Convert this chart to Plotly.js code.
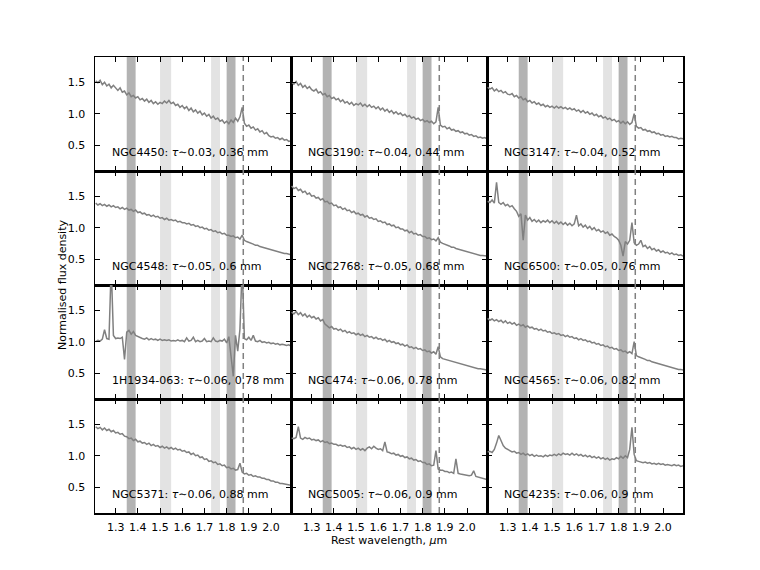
<!DOCTYPE html>
<html>
<head>
<meta charset="utf-8">
<script src="https://cdn.plot.ly/plotly-3.0.1.min.js"></script>
<style>html,body{margin:0;padding:0;background:#fff;}#chart{width:760px;height:570px;}</style>
</head>
<body>
<div id="chart"></div>
<script>
// ---- data ----
const wavelength = [
1.21,1.22,1.23,1.24,1.25,1.26,1.27,1.28,1.29,1.30,
1.31,1.32,1.33,1.34,1.35,1.36,1.37,1.38,1.39,1.40,
1.41,1.42,1.43,1.44,1.45,1.46,1.47,1.48,1.49,1.50,
1.51,1.52,1.53,1.54,1.55,1.56,1.57,1.58,1.59,1.60,
1.61,1.62,1.63,1.64,1.65,1.66,1.67,1.68,1.69,1.70,
1.71,1.72,1.73,1.74,1.75,1.76,1.77,1.78,1.79,1.80,
1.81,1.82,1.83,1.84,1.85,1.86,1.87,1.88,1.89,1.90,
1.91,1.92,1.93,1.94,1.95,1.96,1.97,1.98,1.99,2.00,
2.01,2.02,2.03,2.04,2.05,2.06,2.07,2.08,2.09];

const fluxNGC4450 = [
1.52,1.49,1.53,1.46,1.50,1.44,1.47,1.41,1.45,1.40,
1.37,1.41,1.34,1.36,1.30,1.33,1.27,1.29,1.25,1.27,
1.22,1.24,1.20,1.23,1.18,1.21,1.16,1.19,1.15,1.18,
1.16,1.20,1.17,1.21,1.16,1.18,1.13,1.15,1.10,1.13,
1.08,1.11,1.05,1.09,1.03,1.06,1.01,1.04,0.98,1.01,
0.96,0.99,0.93,0.96,0.91,0.93,0.88,0.90,0.85,0.88,
0.84,0.90,0.86,0.93,0.88,0.95,1.10,0.85,0.80,0.82,
0.77,0.79,0.74,0.76,0.71,0.73,0.68,0.70,0.65,0.63,
0.64,0.61,0.62,0.59,0.61,0.58,0.59,0.56,0.57];

const fluxNGC3190 = [
1.50,1.47,1.51,1.45,1.48,1.42,1.45,1.40,1.43,1.38,
1.36,1.39,1.33,1.35,1.30,1.32,1.27,1.29,1.24,1.26,
1.22,1.24,1.19,1.22,1.17,1.19,1.15,1.18,1.13,1.16,
1.14,1.17,1.12,1.15,1.11,1.14,1.10,1.12,1.08,1.11,
1.06,1.09,1.04,1.07,1.02,1.05,1.00,1.03,0.99,1.01,
0.97,0.99,0.95,0.97,0.93,0.95,0.91,0.93,0.89,0.91,
0.87,0.89,0.86,0.88,0.84,0.87,1.10,0.82,0.79,0.80,
0.76,0.78,0.74,0.75,0.72,0.73,0.70,0.71,0.68,0.69,
0.66,0.67,0.64,0.65,0.62,0.63,0.61,0.62,0.60];

const fluxNGC3147 = [
1.42,1.39,1.41,1.36,1.39,1.35,1.37,1.33,1.35,1.31,
1.30,1.32,1.27,1.29,1.25,1.27,1.22,1.24,1.19,1.21,
1.17,1.19,1.15,1.17,1.13,1.15,1.11,1.13,1.10,1.12,
1.09,1.12,1.09,1.11,1.08,1.10,1.07,1.09,1.06,1.08,
1.04,1.06,1.02,1.05,1.01,1.03,0.99,1.01,0.97,0.99,
0.95,0.97,0.93,0.95,0.91,0.93,0.89,0.91,0.87,0.89,
0.85,0.88,0.84,0.87,0.83,0.86,1.00,0.80,0.77,0.78,
0.74,0.75,0.72,0.73,0.70,0.71,0.68,0.69,0.66,0.67,
0.64,0.65,0.63,0.64,0.62,0.62,0.60,0.61,0.60];

const fluxNGC4548 = [
1.39,1.36,1.38,1.35,1.37,1.34,1.36,1.33,1.35,1.32,
1.33,1.30,1.32,1.29,1.31,1.28,1.29,1.26,1.28,1.24,
1.25,1.22,1.23,1.20,1.21,1.18,1.20,1.17,1.18,1.15,
1.16,1.13,1.15,1.12,1.13,1.11,1.12,1.09,1.10,1.08,
1.08,1.06,1.07,1.04,1.05,1.02,1.03,1.00,1.01,0.98,
0.99,0.96,0.97,0.94,0.95,0.92,0.93,0.90,0.91,0.88,
0.88,0.86,0.87,0.84,0.85,0.82,0.88,0.80,0.78,0.77,
0.75,0.74,0.72,0.72,0.70,0.69,0.67,0.67,0.65,0.64,
0.63,0.62,0.61,0.61,0.60,0.59,0.59,0.58,0.57];

const fluxNGC2768 = [
1.66,1.62,1.64,1.59,1.61,1.56,1.58,1.53,1.55,1.50,
1.51,1.47,1.48,1.44,1.46,1.41,1.42,1.38,1.39,1.35,
1.36,1.32,1.33,1.29,1.31,1.27,1.28,1.24,1.26,1.22,
1.23,1.20,1.21,1.17,1.19,1.15,1.16,1.13,1.14,1.10,
1.11,1.08,1.09,1.05,1.06,1.03,1.04,1.00,1.01,0.98,
0.98,0.95,0.96,0.92,0.94,0.90,0.91,0.88,0.89,0.86,
0.86,0.83,0.84,0.81,0.82,0.79,0.84,0.77,0.75,0.74,
0.72,0.71,0.69,0.69,0.67,0.66,0.65,0.64,0.62,0.62,
0.60,0.60,0.58,0.58,0.57,0.56,0.56,0.55,0.55];

const fluxNGC6500 = [
1.42,1.40,1.44,1.39,1.72,1.40,1.37,1.40,1.35,1.37,
1.33,1.35,1.30,1.26,1.18,1.22,0.80,1.20,1.12,1.16,
1.10,1.13,1.09,1.12,1.08,1.11,1.09,1.12,1.08,1.11,
1.07,1.10,1.06,1.09,1.05,1.08,1.04,1.07,1.03,1.06,
1.20,1.03,1.06,1.01,1.04,0.99,1.02,0.97,1.00,0.95,
0.97,0.93,0.95,0.91,0.93,0.88,0.90,0.86,0.84,0.80,
0.72,0.55,0.78,0.74,0.80,1.08,0.76,0.72,0.74,0.80,
0.70,0.72,0.67,0.70,0.65,0.67,0.63,0.65,0.61,0.63,
0.60,0.61,0.58,0.60,0.57,0.58,0.56,0.57,0.55];

const flux1H1934 = [
1.00,1.02,1.01,1.04,1.19,1.05,1.04,2.20,1.10,1.05,
1.06,1.05,1.07,0.72,1.15,1.18,1.12,1.16,1.10,1.08,
1.06,1.05,1.04,1.06,1.03,1.05,1.03,1.04,1.02,1.04,
1.02,1.03,1.02,1.03,1.01,1.02,1.01,1.03,1.01,1.02,
1.00,1.06,1.01,1.02,1.07,1.00,1.02,1.00,1.01,1.05,
1.00,1.01,1.00,1.06,1.01,1.00,1.02,1.01,1.04,0.98,
1.08,0.72,0.45,1.10,0.85,1.20,2.20,1.05,1.03,1.07,
1.02,1.10,1.01,1.00,1.02,0.99,1.00,0.98,0.99,0.97,
0.98,0.96,0.97,0.95,0.96,0.95,0.94,0.95,0.93];

const fluxNGC474 = [
1.47,1.44,1.48,1.43,1.46,1.41,1.44,1.39,1.42,1.38,
1.40,1.36,1.38,1.33,1.35,1.28,1.25,1.22,1.24,1.20,
1.21,1.18,1.20,1.16,1.18,1.14,1.16,1.13,1.14,1.11,
1.13,1.10,1.12,1.08,1.10,1.07,1.08,1.05,1.07,1.04,
1.05,1.02,1.04,1.00,1.02,0.99,1.00,0.97,0.98,0.95,
0.96,0.93,0.95,0.91,0.92,0.89,0.91,0.88,0.89,0.86,
0.87,0.84,0.85,0.82,0.84,0.80,0.92,0.76,0.73,0.72,
0.70,0.69,0.68,0.67,0.66,0.65,0.64,0.63,0.62,0.61,
0.60,0.59,0.59,0.58,0.57,0.57,0.56,0.55,0.55];

const fluxNGC4565 = [
1.37,1.34,1.36,1.33,1.35,1.32,1.34,1.30,1.33,1.29,
1.31,1.28,1.30,1.26,1.28,1.25,1.27,1.23,1.25,1.22,
1.23,1.20,1.21,1.18,1.20,1.17,1.18,1.15,1.16,1.13,
1.14,1.12,1.13,1.10,1.11,1.08,1.10,1.07,1.08,1.05,
1.06,1.03,1.05,1.02,1.03,1.00,1.01,0.98,0.99,0.96,
0.97,0.94,0.95,0.92,0.93,0.90,0.91,0.88,0.89,0.86,
0.87,0.84,0.85,0.82,0.84,0.81,1.00,0.78,0.76,0.75,
0.73,0.72,0.70,0.70,0.68,0.67,0.66,0.65,0.63,0.63,
0.61,0.61,0.59,0.59,0.58,0.57,0.56,0.56,0.55];

const fluxNGC5371 = [
1.46,1.43,1.45,1.41,1.44,1.40,1.42,1.38,1.40,1.36,
1.37,1.34,1.35,1.31,1.30,1.27,1.28,1.24,1.26,1.22,
1.23,1.20,1.21,1.18,1.20,1.16,1.18,1.15,1.16,1.13,
1.15,1.12,1.14,1.11,1.13,1.10,1.12,1.09,1.10,1.07,
1.08,1.05,1.06,1.02,1.04,1.00,1.01,0.97,0.98,0.94,
0.95,0.91,0.92,0.89,0.90,0.86,0.87,0.84,0.85,0.81,
0.82,0.79,0.80,0.77,0.78,0.88,0.74,0.71,0.72,0.69,
0.70,0.67,0.68,0.66,0.66,0.64,0.64,0.62,0.62,0.60,
0.60,0.58,0.58,0.56,0.56,0.55,0.54,0.54,0.53];

const fluxNGC5005 = [
1.28,1.27,1.29,1.46,1.28,1.26,1.29,1.27,1.28,1.25,
1.26,1.24,1.25,1.22,1.24,1.21,1.22,1.19,1.20,1.18,
1.18,1.16,1.17,1.15,1.16,1.13,1.14,1.11,1.13,1.10,
1.12,1.09,1.11,1.08,1.12,1.14,1.11,1.15,1.12,1.10,
1.11,1.08,1.22,1.06,1.05,1.03,1.04,1.01,1.02,0.99,
1.00,0.97,0.98,0.95,0.96,0.93,0.94,0.91,0.92,0.89,
0.89,0.86,0.87,0.84,0.85,1.08,0.79,0.77,0.77,0.75,
0.75,0.73,0.74,0.72,0.95,0.72,0.71,0.70,0.70,0.69,
0.68,0.69,0.76,0.67,0.66,0.65,0.64,0.63,0.62];

const fluxNGC4235 = [
1.06,1.07,1.05,1.10,1.20,1.32,1.24,1.16,1.12,1.10,
1.08,1.06,1.07,1.04,1.05,1.02,1.04,1.01,1.03,1.00,
1.02,0.99,1.01,0.99,1.00,0.98,1.01,0.99,1.01,1.00,
1.02,1.00,1.03,1.01,1.04,1.02,1.03,1.01,1.04,1.01,
1.03,1.00,1.02,0.99,1.01,0.98,1.00,0.97,0.99,0.96,
0.98,0.95,0.97,0.94,0.96,0.93,0.95,0.94,0.97,0.95,
0.99,0.96,1.00,0.97,1.10,1.45,1.02,0.92,0.91,0.90,
0.89,0.90,0.88,0.89,0.87,0.88,0.86,0.88,0.86,0.87,
0.85,0.86,0.85,0.84,0.86,0.84,0.85,0.83,0.84];

const panelNames = ['NGC4450','NGC3190','NGC3147','NGC4548','NGC2768','NGC6500',
                    '1H1934-063','NGC474','NGC4565','NGC5371','NGC5005','NGC4235'];
const panelTau   = ['0.03','0.04','0.04','0.05','0.05','0.05','0.06','0.06','0.06','0.06','0.06','0.06'];
const panelScale = ['0.36','0.44','0.52','0.6','0.68','0.76','0.78','0.78','0.82','0.88','0.9','0.9'];
const panelFlux  = [fluxNGC4450, fluxNGC3190, fluxNGC3147, fluxNGC4548, fluxNGC2768, fluxNGC6500,
                    flux1H1934, fluxNGC474, fluxNGC4565, fluxNGC5371, fluxNGC5005, fluxNGC4235];

const xTickVals = [1.3,1.4,1.5,1.6,1.7,1.8,1.9,2.0];
const xTickText = ['1.3','1.4','1.5','1.6','1.7','1.8','1.9','2.0'];
const yTickVals = [0.5,1.0,1.5];
const yTickText = ['0.5','1.0','1.5'];

const darkBands  = [[1.35,1.39],[1.80,1.84]];
const lightBands = [[1.50,1.55],[1.73,1.77]];
const paAlpha = 1.875;

// ---- build ----
const FONT = 'DejaVu Sans, Liberation Sans, sans-serif';
const traces = [], shapes = [], annotations = [];
const layout = {
  width: 760, height: 570,
  margin: {l: 95, r: 77, t: 57, b: 57, pad: 0},
  paper_bgcolor: '#ffffff', plot_bgcolor: '#ffffff',
  font: {family: FONT, size: 11, color: '#000'},
  showlegend: false
};

for (let k = 0; k < 12; k++) {
  const r = Math.floor(k / 3), c = k % 3;
  const sfx = k === 0 ? '' : String(k + 1);
  const xa = 'x' + sfx, ya = 'y' + sfx;
  traces.push({
    x: wavelength, y: panelFlux[k], xaxis: xa, yaxis: ya,
    type: 'scatter', mode: 'lines', hoverinfo: 'skip',
    line: {color: '#808080', width: 1.5}
  });
  layout['xaxis' + sfx] = {
    domain: [c / 3, (c + 1) / 3], anchor: ya,
    range: [1.207, 2.09],
    tickmode: 'array', tickvals: xTickVals, ticktext: xTickText,
    ticks: 'inside', ticklen: 5, tickwidth: 1, tickcolor: '#000',
    showline: true, linecolor: '#000', linewidth: 1.5, mirror: 'allticks',
    showgrid: false, zeroline: false,
    showticklabels: r === 3, ticklabelstandoff: 3,
    tickfont: {family: FONT, size: 11, color: '#000'}
  };
  layout['yaxis' + sfx] = {
    domain: [1 - (r + 1) / 4, 1 - r / 4], anchor: xa,
    range: [0.09, 1.9],
    tickmode: 'array', tickvals: yTickVals, ticktext: yTickText,
    ticks: 'inside', ticklen: 5, tickwidth: 1, tickcolor: '#000',
    showline: true, linecolor: '#000', linewidth: 1.5, mirror: 'allticks',
    showgrid: false, zeroline: false,
    showticklabels: c === 0, ticklabelstandoff: 6,
    tickfont: {family: FONT, size: 11, color: '#000'}
  };
  darkBands.forEach(b => shapes.push({type: 'rect', xref: xa, yref: ya + ' domain',
    x0: b[0], x1: b[1], y0: 0, y1: 1, fillcolor: '#b3b3b3', line: {width: 0}, layer: 'below'}));
  lightBands.forEach(b => shapes.push({type: 'rect', xref: xa, yref: ya + ' domain',
    x0: b[0], x1: b[1], y0: 0, y1: 1, fillcolor: '#e3e3e3', line: {width: 0}, layer: 'below'}));
  shapes.push({type: 'line', xref: xa, yref: ya + ' domain', x0: paAlpha, x1: paAlpha, y0: 0, y1: 1,
    line: {color: '#808080', width: 1.5, dash: '6px,4px'}, layer: 'above'});
  annotations.push({
    xref: xa + ' domain', yref: ya + ' domain', x: 0.075, y: 0.16,
    xanchor: 'left', yanchor: 'middle', showarrow: false,
    text: panelNames[k] + ': <i>τ</i>∼' + panelTau[k] + ', ' + panelScale[k] + ' mm',
    font: {family: FONT, size: 11, color: '#000'}
  });
}

layout.xaxis11.title = {text: 'Rest wavelength, <i>μ</i>m', font: {family: FONT, size: 11, color: '#000'}, standoff: 0};
annotations.push({
  xref: 'paper', yref: 'paper', x: -0.056, y: 0.5, xanchor: 'center', yanchor: 'middle',
  textangle: -90, showarrow: false, text: 'Normalised flux density',
  font: {family: FONT, size: 11, color: '#000'}
});
layout.shapes = shapes;
layout.annotations = annotations;

Plotly.newPlot('chart', traces, layout, {displayModeBar: false, staticPlot: true});
</script>
</body>
</html>
